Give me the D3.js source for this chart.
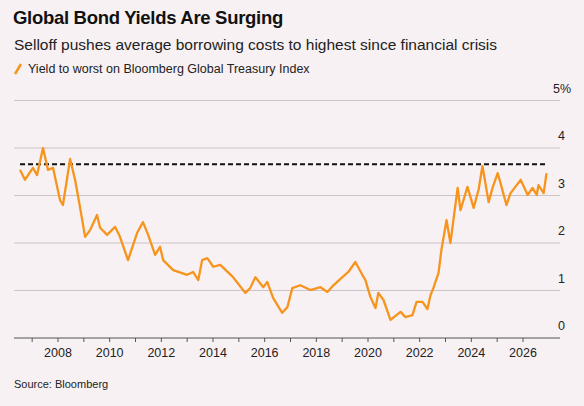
<!DOCTYPE html>
<html><head><meta charset="utf-8">
<script src="https://cdn.jsdelivr.net/npm/d3@7"></script>
<style>body{margin:0;background:#f8f1f3;font-family:"Liberation Sans",Arial,sans-serif}</style>
</head><body><svg id="c" width="584" height="406"></svg>
<script>
const years=[2006.53,2006.72,2007.03,2007.19,2007.42,2007.61,2007.81,2008.08,2008.19,2008.47,2008.66,2008.85,2009.05,2009.24,2009.51,2009.63,2009.90,2010.21,2010.40,2010.71,2011.06,2011.29,2011.49,2011.76,2011.95,2012.07,2012.46,2013.0,2013.23,2013.43,2013.58,2013.78,2014.01,2014.28,2014.78,2015.25,2015.44,2015.64,2015.95,2016.10,2016.33,2016.68,2016.88,2017.07,2017.38,2017.77,2018.16,2018.43,2018.66,2019.01,2019.24,2019.51,2019.78,2019.9,2020.09,2020.29,2020.40,2020.60,2020.87,2021.26,2021.45,2021.72,2021.88,2022.11,2022.30,2022.42,2022.53,2022.73,2022.84,2023.04,2023.19,2023.47,2023.58,2023.85,2024.09,2024.28,2024.43,2024.67,2024.82,2025.02,2025.13,2025.36,2025.52,2025.91,2026.18,2026.37,2026.53,2026.60,2026.80,2026.91];
const yields=[3.54,3.33,3.58,3.43,4.0,3.54,3.58,2.9,2.8,3.77,3.33,2.76,2.13,2.27,2.59,2.32,2.17,2.34,2.13,1.64,2.21,2.44,2.17,1.75,1.92,1.64,1.43,1.33,1.39,1.22,1.64,1.68,1.5,1.54,1.28,0.95,1.05,1.28,1.07,1.18,0.84,0.53,0.65,1.05,1.11,1.01,1.07,0.97,1.11,1.28,1.39,1.6,1.33,1.22,0.87,0.63,0.95,0.8,0.38,0.55,0.44,0.48,0.76,0.76,0.61,0.9,1.05,1.37,1.85,2.48,2.0,3.16,2.69,3.18,2.74,3.12,3.62,2.86,3.16,3.47,3.26,2.8,3.05,3.33,3.01,3.16,3.01,3.22,3.05,3.47,3.43,3.62];
const highLevel=3.66;
const yTicks=[0,1,2,3,4,5];
const xLabels=[2008,2010,2012,2014,2016,2018,2020,2022,2024,2026];
const orange="#f7941d";
const svg=d3.select("#c");
const x=d3.scaleLinear().domain([2008,2026]).range([58,523]);
const y=d3.scaleLinear().domain([0,5]).range([338,100.5]);
const L=14,R=560;
svg.append("text").attr("x",13).attr("y",24).attr("font-size",18.5).attr("font-weight","bold").attr("fill","#111").attr("letter-spacing","-0.3").text("Global Bond Yields Are Surging");
svg.append("text").attr("x",14).attr("y",50).attr("font-size",15.5).attr("fill","#222").text("Selloff pushes average borrowing costs to highest since financial crisis");
svg.append("line").attr("x1",15).attr("x2",21).attr("y1",74).attr("y2",64).attr("stroke",orange).attr("stroke-width",2.5);
svg.append("text").attr("x",28).attr("y",73).attr("font-size",12.5).attr("fill","#222").text("Yield to worst on Bloomberg Global Treasury Index");
yTicks.filter(t=>t>0).forEach(t=>svg.append("line").attr("x1",L).attr("x2",R).attr("y1",y(t)).attr("y2",y(t)).attr("stroke","#cbc3c6").attr("stroke-width",1));
yTicks.forEach(t=>svg.append("text").attr("y",y(t)-8).attr("font-size",12.5).attr("fill","#222").text(t===5?"5%":t).attr("x",t===5?553:558));
svg.append("line").attr("x1",L).attr("x2",R).attr("y1",338).attr("y2",338).attr("stroke","#555").attr("stroke-width",1);
d3.range(2007,2027).forEach(yr=>svg.append("line").attr("x1",x(yr)).attr("x2",x(yr)).attr("y1",338).attr("y2",342).attr("stroke","#555"));
xLabels.forEach(yr=>svg.append("text").attr("x",x(yr)).attr("y",357).attr("font-size",12.5).attr("fill","#222").attr("text-anchor","middle").text(yr));
svg.append("line").attr("x1",x(years[0])).attr("x2",x(years[years.length-1])).attr("y1",y(highLevel)).attr("y2",y(highLevel)).attr("stroke","#111").attr("stroke-width",2).attr("stroke-dasharray","5,3");
const line=d3.line().x((d,i)=>x(years[i])).y(d=>y(d));
svg.append("path").datum(yields).attr("d",line).attr("fill","none").attr("stroke",orange).attr("stroke-width",2.3).attr("stroke-linejoin","round");
svg.append("text").attr("x",14).attr("y",388).attr("font-size",11).attr("fill","#222").text("Source: Bloomberg");
</script></body></html>
